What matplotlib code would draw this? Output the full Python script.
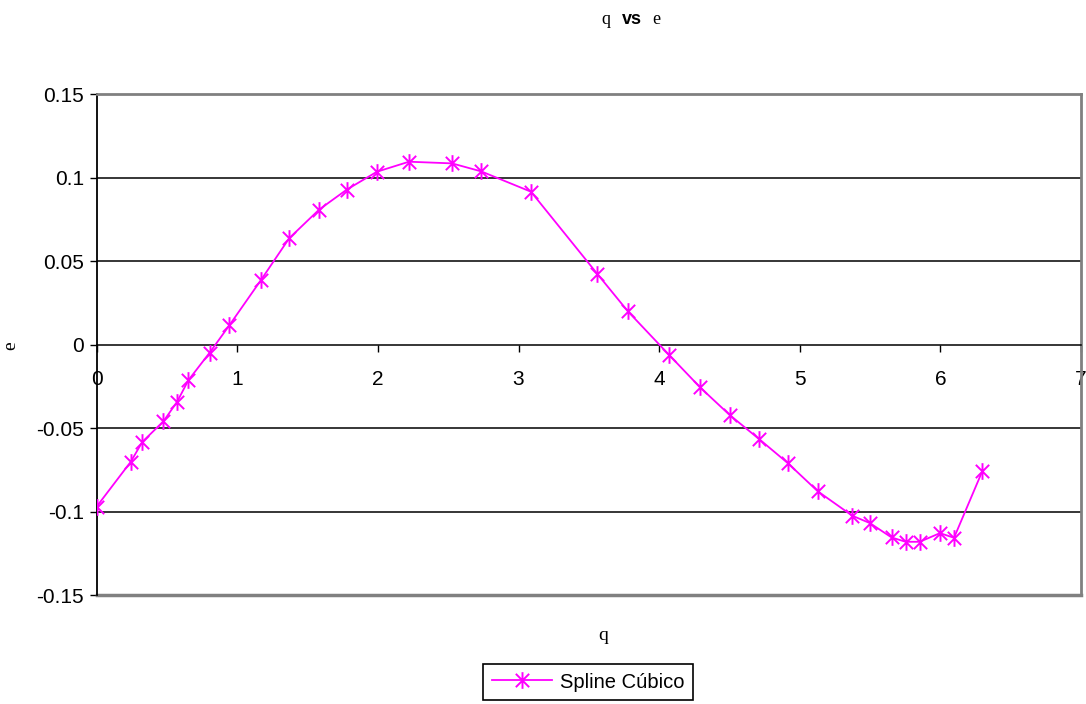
import numpy as np
import matplotlib
matplotlib.use("Agg")
import matplotlib.pyplot as plt
from matplotlib.path import Path

# values
q = [0.0, 0.242, 0.325, 0.474, 0.572, 0.652, 0.804, 0.944, 1.167, 1.369,
     1.582, 1.779, 1.993, 2.221, 2.527, 2.735, 3.089, 3.561, 3.777, 4.073,
     4.292, 4.503, 4.712, 4.913, 5.129, 5.374, 5.499, 5.653, 5.753, 5.853,
     5.997, 6.097, 6.299]
e = [-0.0970, -0.0702, -0.0582, -0.0460, -0.0342, -0.0213, -0.0047, 0.0117,
     0.0386, 0.0638, 0.0810, 0.0930, 0.1037, 0.1097, 0.1087, 0.1039, 0.0917,
     0.0424, 0.0201, -0.0063, -0.0256, -0.0422, -0.0566, -0.0708, -0.0879,
     -0.1025, -0.1069, -0.1155, -0.1181, -0.1181, -0.1129, -0.1157, -0.0756]
series_name = "Spline Cúbico"
x_ticks = [0, 1, 2, 3, 4, 5, 6, 7]
y_ticks = [-0.15, -0.1, -0.05, 0, 0.05, 0.1, 0.15]
y_labels = ["-0.15", "-0.1", "-0.05", "0", "0.05", "0.1", "0.15"]

SANS = "Liberation Sans"
SERIF = "Liberation Serif"
MAGENTA = "#FF00FF"
GRAY = "#808080"

plt.rcParams["font.family"] = [SANS, "DejaVu Sans"]

# Excel-style star marker: an x with a vertical bar through it
star = Path([(-1, -1), (1, 1), (-1, 1), (1, -1), (0, -1.25), (0, 1.25)],
            [Path.MOVETO, Path.LINETO, Path.MOVETO, Path.LINETO, Path.MOVETO, Path.LINETO])

fig = plt.figure(figsize=(10.86, 7.04), dpi=100)
ax = fig.add_axes([0.089, 0.1548, 0.9064, 0.711])

ax.plot(q, e, color=MAGENTA, lw=1.3, marker=star, markersize=12,
        markeredgewidth=1.4, markeredgecolor=MAGENTA, label=series_name,
        zorder=3)

ax.set_xlim(0, 7)
ax.set_ylim(-0.15, 0.15)
ax.set_xticks(x_ticks)
ax.set_xticklabels([str(t) for t in x_ticks])
ax.set_yticks(y_ticks)
ax.set_yticklabels(y_labels)

for yv in [-0.1, -0.05, 0.05, 0.1]:
    ax.axhline(yv, color="black", lw=1.1, zorder=1)

# x axis sits on y = 0, grey frame around the rest
ax.spines["bottom"].set_position(("data", 0))
ax.spines["bottom"].set_color("black")
ax.spines["bottom"].set_linewidth(1.1)
ax.spines["left"].set_color("black")
ax.spines["left"].set_linewidth(1.3)
for s in ["top", "right"]:
    ax.spines[s].set_color(GRAY)
    ax.spines[s].set_linewidth(2)
ax.axhline(-0.15, color=GRAY, lw=2.5, clip_on=False, zorder=2)

ax.tick_params(axis="x", direction="out", length=5, width=1, pad=13,
               labelsize=15)
ax.tick_params(axis="y", direction="out", length=5, width=1, pad=4,
               labelsize=15)

# title: q (serif) vs (bold sans) e (serif)
fig.text(606 / 1086, 1 - 20 / 704, "q", fontfamily=SERIF, fontsize=13,
         ha="center", va="center")
fig.text(632 / 1086, 1 - 19 / 704, "vs", fontfamily=SANS, fontsize=13,
         fontweight="bold", ha="center", va="center")
fig.text(656 / 1086, 1 - 19 / 704, "e", fontfamily=SERIF, fontsize=13,
         ha="center", va="center")

fig.text(603 / 1086, 1 - 635 / 704, "q", fontfamily=SERIF, fontsize=14,
         ha="center", va="center")
fig.text(11 / 1086, 1 - 346 / 704, "e", fontfamily=SERIF, fontsize=14,
         ha="center", va="center", rotation=90)

leg = fig.legend(loc="center", bbox_to_anchor=(588 / 1086, 1 - 682 / 704),
                 prop={"family": SANS, "size": 14.5}, fancybox=False,
                 framealpha=1, edgecolor="black", borderpad=0.4,
                 handlelength=3.0, handletextpad=0.4, borderaxespad=0)
leg.get_frame().set_linewidth(1.2)

fig.savefig("out.png", dpi=100)
